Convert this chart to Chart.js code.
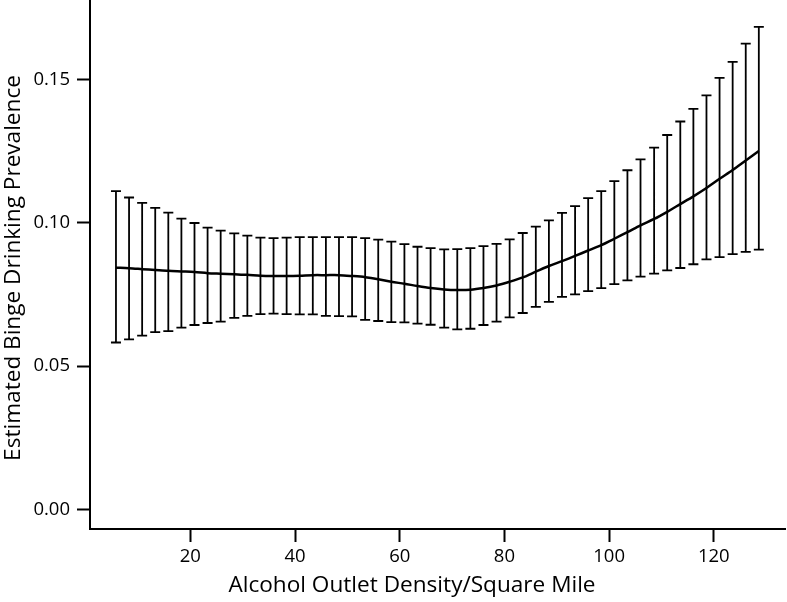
<script src="https://cdn.jsdelivr.net/npm/chart.js@4.4.7/dist/chart.umd.min.js"></script>

<style>
  body {
    margin: 0;
    background: #fff;
  }
  .chart-container {
    width: 787px;
    height: 602px;
  }
</style>

<div class="chart-container">
  <canvas id="chart"></canvas>
</div>

<script>
  // outlet density (x) at each estimate
  const density = [
    5.8, 8.3, 10.8, 13.3, 15.8, 18.3, 20.8, 23.3, 25.8, 28.4,
    30.9, 33.4, 35.9, 38.4, 40.9, 43.4, 45.9, 48.4, 50.9, 53.4,
    55.9, 58.4, 60.9, 63.4, 65.9, 68.5, 71.0, 73.5, 76.0, 78.5,
    81.0, 83.5, 86.0, 88.5, 91.0, 93.5, 96.0, 98.5, 101.0, 103.5,
    106.0, 108.6, 111.1, 113.6, 116.1, 118.6, 121.1, 123.6, 126.1, 128.6
  ]

  // estimated prevalence
  const estimate = [
    0.0843, 0.0841, 0.0838, 0.0835, 0.0832, 0.0830, 0.0828, 0.0824, 0.0822, 0.0820,
    0.0818, 0.0815, 0.0814, 0.0814, 0.0815, 0.0817, 0.0817, 0.0817, 0.0814, 0.0810,
    0.0803, 0.0794, 0.0787, 0.0779, 0.0772, 0.0767, 0.0765, 0.0766, 0.0772, 0.0781,
    0.0794, 0.0809, 0.0829, 0.0849, 0.0866, 0.0884, 0.0903, 0.0922, 0.0944, 0.0967,
    0.0991, 0.1013, 0.1038, 0.1065, 0.1092, 0.1121, 0.1153, 0.1184, 0.1217, 0.1250
  ]

  // upper end of the error bars
  const upper = [
    0.1110, 0.1088, 0.1069, 0.1052, 0.1035, 0.1014, 0.0999, 0.0983, 0.0972, 0.0963,
    0.0955, 0.0948, 0.0946, 0.0948, 0.0950, 0.0950, 0.0950, 0.0950, 0.0950, 0.0946,
    0.0941, 0.0934, 0.0925, 0.0916, 0.0911, 0.0907, 0.0908, 0.0911, 0.0918, 0.0926,
    0.0942, 0.0964, 0.0986, 0.1008, 0.1034, 0.1058, 0.1086, 0.1110, 0.1145, 0.1183,
    0.1221, 0.1262, 0.1306, 0.1353, 0.1397, 0.1444, 0.1505, 0.1561, 0.1625, 0.1683
  ]

  // lower end of the error bars
  const lower = [
    0.0582, 0.0593, 0.0606, 0.0618, 0.0622, 0.0634, 0.0643, 0.0650, 0.0655, 0.0668,
    0.0675, 0.0681, 0.0683, 0.0681, 0.0680, 0.0680, 0.0675, 0.0674, 0.0673, 0.0661,
    0.0657, 0.0653, 0.0652, 0.0648, 0.0644, 0.0634, 0.0628, 0.0630, 0.0643, 0.0655,
    0.0670, 0.0685, 0.0706, 0.0724, 0.0741, 0.0750, 0.0761, 0.0772, 0.0786, 0.0799,
    0.0812, 0.0822, 0.0834, 0.0842, 0.0855, 0.0872, 0.0880, 0.0890, 0.0898, 0.0906
  ]

  const xTicks = [20, 40, 60, 80, 100, 120]
  const yTicks = [0, 0.05, 0.1, 0.15]

  const xTitle = 'Alcohol Outlet Density/Square Mile'
  const yTitle = 'Estimated Binge Drinking Prevalence'

  const FONT = '"Open Sans", "DejaVu Sans", sans-serif'

  /*
   * Draw vertical error bars with caps from the lower/upper arrays
   */
  const errorBars = {
    id: 'errorBars',
    beforeDatasetsDraw(chart) {
      const ctx = chart.ctx
      const xs = chart.scales.x
      const ys = chart.scales.y
      const cap = 5
      ctx.save()
      ctx.strokeStyle = '#000'
      ctx.lineWidth = 1.8
      ctx.beginPath()
      for (let i = 0; i < density.length; i++) {
        const px = xs.getPixelForValue(density[i])
        const top = ys.getPixelForValue(upper[i])
        const bottom = ys.getPixelForValue(lower[i])
        ctx.moveTo(px, top)
        ctx.lineTo(px, bottom)
        ctx.moveTo(px - cap, top)
        ctx.lineTo(px + cap, top)
        ctx.moveTo(px - cap, bottom)
        ctx.lineTo(px + cap, bottom)
      }
      ctx.stroke()
      ctx.restore()
    }
  }

  /*
   * Axis titles, placed where the original figure has them
   */
  const axisTitles = {
    id: 'axisTitles',
    afterDraw(chart) {
      const ctx = chart.ctx
      ctx.save()
      ctx.fillStyle = '#000'
      ctx.font = '22.6px ' + FONT
      ctx.textAlign = 'center'
      ctx.textBaseline = 'middle'
      ctx.fillText(xTitle, 412, 586)
      ctx.translate(14, 268)
      ctx.rotate(-Math.PI / 2)
      ctx.fillText(yTitle, 0, 0)
      ctx.restore()
    }
  }

  const axisCommon = {
    border: { display: true, color: '#000', width: 2 },
    grid: {
      display: true,
      drawOnChartArea: false,
      drawTicks: true,
      tickLength: 13,
      tickWidth: 2,
      tickColor: '#000'
    }
  }

  // drop the label overflow padding so the plot reaches the top edge
  function noPadding(s) {
    s.paddingTop = 0
    s.paddingBottom = 0
    s.paddingLeft = 0
    s.paddingRight = 0
  }

  const config = {
    type: 'line',
    data: {
      datasets: [{
        data: density.map((x, i) => ({ x: x, y: estimate[i] })),
        borderColor: '#000',
        borderWidth: 2.5,
        pointRadius: 0,
        tension: 0.3,
        fill: false
      }]
    },
    options: {
      responsive: true,
      maintainAspectRatio: false,
      animation: false,
      layout: { padding: { top: 0, right: 2, bottom: 0, left: 0 } },
      plugins: {
        legend: { display: false },
        tooltip: { enabled: false }
      },
      scales: {
        x: {
          ...axisCommon,
          type: 'linear',
          min: 0.84,
          max: 133.6,
          afterBuildTicks: (s) => { s.ticks = xTicks.map((v) => ({ value: v })) },
          afterFit: (s) => { s.height = 73; noPadding(s) },
          ticks: {
            color: '#000',
            padding: 4,
            maxRotation: 0,
            font: { family: FONT, size: 18.5 },
            callback: (v) => String(v)
          }
        },
        y: {
          ...axisCommon,
          type: 'linear',
          min: -0.00687,
          max: 0.1777,
          afterBuildTicks: (s) => { s.ticks = yTicks.map((v) => ({ value: v })) },
          afterFit: (s) => { s.width = 90; noPadding(s) },
          ticks: {
            color: '#000',
            padding: 7,
            font: { family: FONT, size: 18.5 },
            callback: (v) => v.toFixed(2)
          }
        }
      }
    },
    plugins: [errorBars, axisTitles]
  }

  const myChart = new Chart(document.getElementById('chart'), config)
</script>
